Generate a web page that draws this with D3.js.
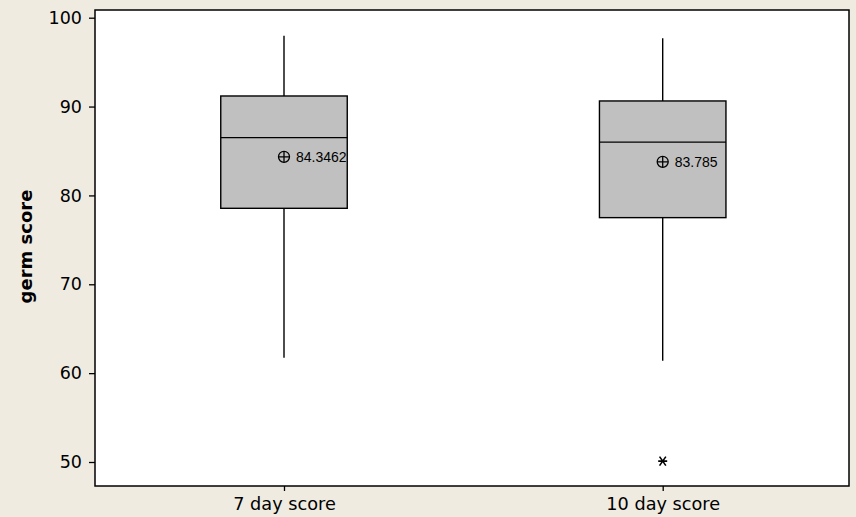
<!DOCTYPE html>
<html lang="en">
<head>
    <meta charset="UTF-8">
    <title>germ score boxplot</title>
    <script src="https://d3js.org/d3.v7.min.js"></script>
    <style>
        body{ margin:0; background:#EFEBE1; }
        text{ font-family: "DejaVu Sans", sans-serif; fill:#000; }
    </style>
</head>
<body>
<script>
    const categories = ["7 day score", "10 day score"];
    const whiskerLow = [61.74, 61.4];
    const q1 = [78.55, 77.5];
    const median = [86.5, 86.0];
    const q3 = [91.19, 90.63];
    const whiskerHigh = [97.97, 97.7];
    const means = [84.3462, 83.785];
    const meanLabels = ["84.3462", "83.785"];
    const outliers = [[], [50.1]];
    const yTicks = [50, 60, 70, 80, 90, 100];

    const width = 856, height = 517;
    const margin = {left: 95, top: 10, right: 7, bottom: 31};

    const svg = d3.select("body").append("svg")
        .attr("width", width).attr("height", height)

    svg.append("rect").attr("width", width).attr("height", height).attr("fill", "#EFEBE1")

    const y = d3.scaleLinear()
        .domain([50, 100])
        .range([462, 17.7])

    const x = d3.scalePoint()
        .domain(categories)
        .range([284, 662.7])

    // plot area
    svg.append("rect")
        .attr("x", margin.left).attr("y", margin.top)
        .attr("width", width - margin.left - margin.right)
        .attr("height", height - margin.top - margin.bottom)
        .attr("fill", "#fff")
        .attr("stroke", "#000").attr("stroke-width", 1.5)

    const yAxis = svg.append("g")
        .attr("transform", `translate(${margin.left},0)`)
        .call(d3.axisLeft(y).tickValues(yTicks).tickSize(6).tickPadding(7))
    yAxis.select(".domain").remove()
    yAxis.selectAll("text").attr("font-size", 17.5).style("font-family", "'DejaVu Sans', sans-serif")
    yAxis.selectAll("line").attr("stroke-width", 1.3)

    const xAxis = svg.append("g")
        .attr("transform", `translate(0,${height - margin.bottom})`)
        .call(d3.axisBottom(x).tickSize(5))
    xAxis.select(".domain").remove()
    xAxis.selectAll("text")
        .attr("dy", null).attr("y", 24)
        .attr("font-size", 17.7).style("font-family", "'DejaVu Sans', sans-serif")
    xAxis.selectAll("line").attr("stroke-width", 1.3)

    svg.append("text")
        .attr("transform", "translate(32,246.5) rotate(-90)")
        .attr("text-anchor", "middle")
        .attr("font-size", 18)
        .attr("font-weight", "bold")
        .text("germ score")

    const boxW = 126.5;
    const g = svg.append("g")

    categories.forEach((c, i) => {
        const cx = x(c);
        g.append("line")
            .attr("x1", cx).attr("x2", cx)
            .attr("y1", y(whiskerHigh[i])).attr("y2", y(q3[i]))
            .attr("stroke", "#000").attr("stroke-width", 1.4)
        g.append("line")
            .attr("x1", cx).attr("x2", cx)
            .attr("y1", y(q1[i])).attr("y2", y(whiskerLow[i]))
            .attr("stroke", "#000").attr("stroke-width", 1.4)
        g.append("rect")
            .attr("x", cx - boxW / 2).attr("y", y(q3[i]))
            .attr("width", boxW).attr("height", y(q1[i]) - y(q3[i]))
            .attr("fill", "#C0C0C0").attr("stroke", "#000").attr("stroke-width", 1.4)
        g.append("line")
            .attr("x1", cx - boxW / 2).attr("x2", cx + boxW / 2)
            .attr("y1", y(median[i])).attr("y2", y(median[i]))
            .attr("stroke", "#000").attr("stroke-width", 1.4)

        // mean symbol
        const my = y(means[i]);
        g.append("circle").attr("cx", cx).attr("cy", my).attr("r", 5.5)
            .attr("fill", "none").attr("stroke", "#000").attr("stroke-width", 1.3)
        g.append("path")
            .attr("d", `M${cx - 5.5},${my}H${cx + 5.5}M${cx},${my - 5.5}V${my + 5.5}`)
            .attr("stroke", "#000").attr("stroke-width", 1.3)
        g.append("text")
            .attr("x", cx + 12).attr("y", my + 5)
            .attr("font-size", 14)
            .style("font-family", "'Liberation Sans', Arial, sans-serif")
            .text(meanLabels[i])

        // outlier asterisk
        outliers[i].forEach(v => {
            const oy = y(v), s = 4.5;
            g.append("path")
                .attr("d", `M${cx - s},${oy}H${cx + s}M${cx - s * 0.7},${oy - s}L${cx + s * 0.7},${oy + s}M${cx - s * 0.7},${oy + s}L${cx + s * 0.7},${oy - s}`)
                .attr("stroke", "#000").attr("stroke-width", 1.6)
        })
    })
</script>
</body>
</html>
